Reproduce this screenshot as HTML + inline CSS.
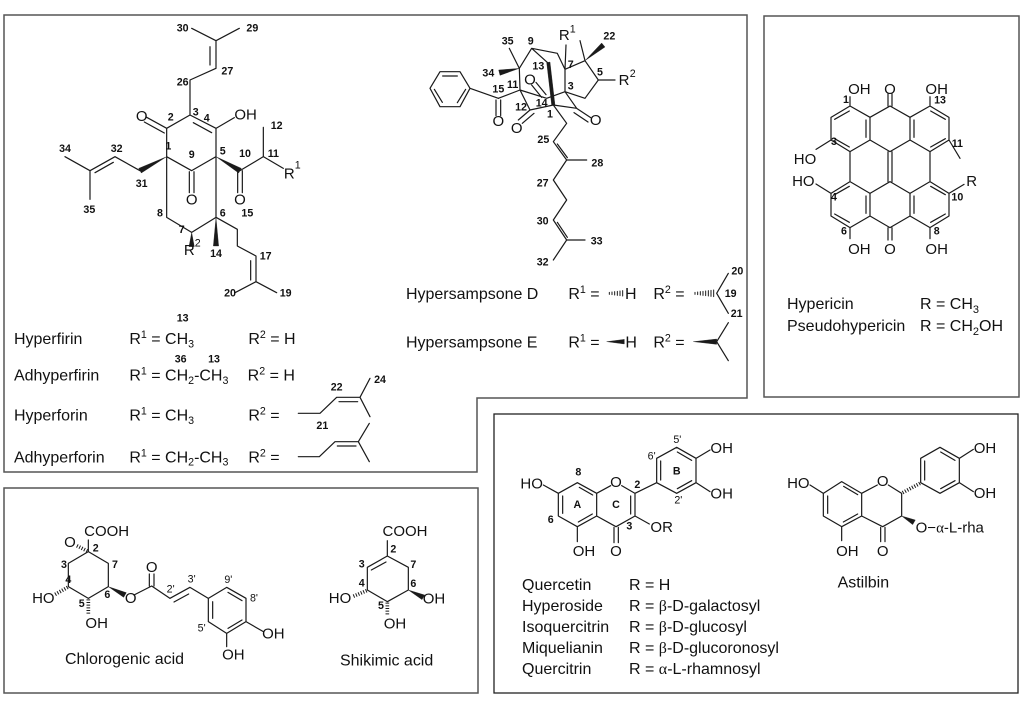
<!DOCTYPE html>
<html>
<head>
<meta charset="utf-8">
<style>
html,body{margin:0;padding:0;background:#fff;}
svg{display:block;}
text{font-family:"Liberation Sans",Arial,sans-serif;fill:#111;}
.b{fill:none;stroke:#1a1a1a;stroke-width:3.6;stroke-linecap:round;stroke-linejoin:round;}
.h{fill:none;stroke:#1a1a1a;stroke-width:11;stroke-dasharray:3 5;}
.w{fill:#1a1a1a;stroke:#1a1a1a;stroke-width:1;}
.n{font-size:32px;font-weight:bold;text-anchor:middle;dominant-baseline:central;}
.a{font-size:45px;text-anchor:middle;dominant-baseline:central;}
.t{font-size:48px;}
.s{font-size:32px;}
.box{fill:none;stroke:#555;stroke-width:1.5;}
.box2{fill:none;stroke:#222;stroke-width:1.3;}
</style>
</head>
<body>
<svg width="1025" height="709" viewBox="0 0 1025 709" xmlns="http://www.w3.org/2000/svg">
<rect width="1025" height="709" fill="#fff"/>

<!-- boxes -->
<polygon class="box" points="4,15 747,15 747,398 477,398 477,472 4,472"/>
<rect class="box" x="764" y="16" width="255" height="381"/>
<rect class="box2" x="494" y="414" width="524" height="279"/>
<rect class="box" x="4" y="488" width="474" height="205"/>

<!-- ===== Hyperfirin core ===== -->
<g transform="scale(0.333333)">
<path class="b" d="M575,85 L648,122 L718,85 M648,122 L648,205 L570,240 L570,345 M630,140 L630,195
M570,345 L500,385 L500,470 L575,512 L648,470 L648,385 L570,345 M580,368 L635,398
M500,385 L440,352 M493,399 L433,366 M648,385 L703,353
M568,515 L568,578 M582,515 L582,578
M720,512 L790,470 L850,505 M790,470 L790,382 M713,512 L713,578 M727,512 L727,578
M420,512 L345,470 L270,512 L195,470 M270,512 L270,598 M340,487 L285,518
M500,470 L500,652 L575,697 L648,652 L648,470
M648,652 L712,688 L712,738 L768,768 L768,845 L705,878 M768,845 L830,878 M752,782 L752,840"/>
<polygon class="w" points="648,470 716,519 724,505"/>
<polygon class="w" points="500,470 416,505 424,519"/>
<polygon class="w" points="575,697 567,740 583,740"/>
<polygon class="w" points="648,652 640,738 656,738"/>
<text class="n" x="548" y="85">30</text>
<text class="n" x="757" y="85">29</text>
<text class="n" x="682" y="215">27</text>
<text class="n" x="548" y="248">26</text>
<text class="n" x="587" y="338">3</text>
<text class="n" x="512" y="352">2</text>
<text class="n" x="620" y="355">4</text>
<text class="a" x="425" y="350">O</text>
<text class="a" x="703" y="345" style="text-anchor:start">OH</text>
<text class="n" x="830" y="378">12</text>
<text class="n" x="820" y="462">11</text>
<text class="n" x="735" y="462">10</text>
<text class="n" x="668" y="455">5</text>
<text class="n" x="575" y="465">9</text>
<text class="n" x="505" y="440">1</text>
<text class="n" x="195" y="447">34</text>
<text class="n" x="350" y="447">32</text>
<text class="n" x="425" y="552">31</text>
<text class="n" x="268" y="630">35</text>
<text class="n" x="480" y="640">8</text>
<text class="n" x="545" y="690">7</text>
<text class="n" x="668" y="640">6</text>
<text class="n" x="742" y="640">15</text>
<text class="n" x="648" y="762">14</text>
<text class="n" x="797" y="770">17</text>
<text class="n" x="690" y="880">20</text>
<text class="n" x="857" y="880">19</text>
<text class="a" x="575" y="600">O</text>
<text class="a" x="720" y="600">O</text>
<text class="a" x="868" y="522">R</text>
<text class="n" x="893" y="497" style="font-weight:normal">1</text>
<text class="a" x="568" y="752">R</text>
<text class="n" x="593" y="730" style="font-weight:normal">2</text>
</g>

<!-- ===== Hyperfirin table ===== -->
<g transform="translate(0,300) scale(0.333333)">
<text class="t" x="42" y="132">Hyperfirin</text>
<text class="t" x="388" y="132">R<tspan class="s" dy="-18">1</tspan><tspan dy="18"> = CH</tspan><tspan class="s" dy="10">3</tspan></text>
<text class="t" x="745" y="132">R<tspan class="s" dy="-18">2</tspan><tspan dy="18"> = H</tspan></text>
<text class="n" x="548" y="55">13</text>

<text class="t" x="42" y="242">Adhyperfirin</text>
<text class="t" x="388" y="242">R<tspan class="s" dy="-18">1</tspan><tspan dy="18"> = CH</tspan><tspan class="s" dy="10">2</tspan><tspan dy="-10">-CH</tspan><tspan class="s" dy="10">3</tspan></text>
<text class="t" x="743" y="242">R<tspan class="s" dy="-18">2</tspan><tspan dy="18"> = H</tspan></text>
<text class="n" x="542" y="178">36</text>
<text class="n" x="642" y="178">13</text>

<text class="t" x="42" y="362">Hyperforin</text>
<text class="t" x="388" y="362">R<tspan class="s" dy="-18">1</tspan><tspan dy="18"> = CH</tspan><tspan class="s" dy="10">3</tspan></text>
<text class="t" x="745" y="362">R<tspan class="s" dy="-18">2</tspan><tspan dy="18"> =</tspan></text>
<path class="b" d="M895,340 L960,340 L1010,292 L1080,292 L1110,235 M1080,292 L1110,350 M1017,305 L1073,305"/>
<text class="n" x="1010" y="262">22</text>
<text class="n" x="967" y="378">21</text>
<text class="n" x="1140" y="240">24</text>

<text class="t" x="42" y="487">Adhyperforin</text>
<text class="t" x="388" y="487">R<tspan class="s" dy="-18">1</tspan><tspan dy="18"> = CH</tspan><tspan class="s" dy="10">2</tspan><tspan dy="-10">-CH</tspan><tspan class="s" dy="10">3</tspan></text>
<text class="t" x="745" y="487">R<tspan class="s" dy="-18">2</tspan><tspan dy="18"> =</tspan></text>
<path class="b" d="M895,470 L958,470 L1005,425 L1075,425 L1108,370 M1075,425 L1108,485 M1012,438 L1068,438"/>
</g>

<!-- ===== Hypersampsone core ===== -->
<g transform="translate(470,20) scale(0.333333)">
<path class="b" d="M148,145 L118,85 M148,145 L185,85 L262,100 L285,148 M185,85 L235,130
M285,148 L288,75 M285,148 L345,122 L330,62 M345,122 L385,180 L435,180
M385,180 L345,235 L285,215 L285,148
M285,215 L320,265 L250,255 L180,270 L150,210 L148,145
M150,210 L85,235 M150,210 L230,235 L285,215
M320,265 L362,293 M312,278 L354,306
M180,270 L145,300 M192,280 L157,310
M78,240 L78,287 M92,240 L92,287
M215,232 L185,195 M228,224 L198,187"/>
<polygon class="w" points="148,145 86,150 90,166"/>
<polygon class="w" points="345,122 395,69 405,81"/>
<polygon class="w" points="230,128 240,126 255,255 245,256"/>
<text class="n" x="113" y="65">35</text>
<text class="n" x="182" y="65">9</text>
<text class="n" x="55" y="160">34</text>
<text class="n" x="205" y="140">13</text>
<text class="n" x="302" y="135">7</text>
<text class="a" x="283" y="47">R</text>
<text class="n" x="308" y="28" style="font-weight:normal">1</text>
<text class="n" x="418" y="50">22</text>
<text class="n" x="390" y="158">5</text>
<text class="a" x="462" y="182">R</text>
<text class="n" x="488" y="162" style="font-weight:normal">2</text>
<text class="n" x="128" y="195">11</text>
<text class="n" x="85" y="208">15</text>
<text class="n" x="153" y="262">12</text>
<text class="n" x="215" y="250">14</text>
<text class="n" x="240" y="284">1</text>
<text class="n" x="302" y="200">3</text>
<text class="a" x="180" y="180">O</text>
<text class="a" x="85" y="305">O</text>
<text class="a" x="140" y="325">O</text>
<text class="a" x="377" y="302">O</text>
</g>

<!-- benzene + chain -->
<g transform="translate(380,0) scale(0.333333)">
<path class="b" d="M180,215 L240,215 L270,265 L240,320 L180,320 L150,265 Z
M188,228 L232,228 M257,268 L232,308 M187,307 L163,268 M270,265 L355,295
M520,315 L560,370 L520,425 L560,480 L620,480 M560,480 L520,540 L560,600 L520,660 L560,720 L615,720 M560,720 L520,780
M532,432 L562,473 M532,667 L562,712"/>
<text class="n" x="490" y="420">25</text>
<text class="n" x="652" y="490">28</text>
<text class="n" x="488" y="550">27</text>
<text class="n" x="488" y="665">30</text>
<text class="n" x="650" y="725">33</text>
<text class="n" x="488" y="788">32</text>
</g>

<!-- hypersampsone table -->
<g transform="translate(380,260) scale(0.333333)">
<text class="t" x="78" y="117">Hypersampsone D</text>
<text class="t" x="565" y="117">R<tspan class="s" dy="-18">1</tspan><tspan dy="18"> =</tspan></text>
<path class="b" style="stroke-width:3" d="M688,97 L688,103 M696,96 L696,104 M704,95 L704,105 M712,94 L712,106 M720,93 L720,107 M728,92 L728,108"/>
<text class="t" x="735" y="117">H</text>
<text class="t" x="820" y="117">R<tspan class="s" dy="-18">2</tspan><tspan dy="18"> =</tspan></text>
<path class="b" style="stroke-width:3" d="M945,97 L945,103 M953,96 L953,104 M961,95 L961,105 M969,94 L969,106 M977,93 L977,107 M985,92 L985,108 M993,91 L993,109 M1001,90 L1001,110"/>
<path class="b" d="M1010,100 L1045,40 M1010,100 L1045,160"/>
<text class="n" x="1072" y="35">20</text>
<text class="n" x="1052" y="102">19</text>
<text class="n" x="1070" y="162">21</text>

<text class="t" x="78" y="262">Hypersampsone E</text>
<text class="t" x="565" y="262">R<tspan class="s" dy="-18">1</tspan><tspan dy="18"> =</tspan></text>
<polygon class="w" points="680,245 733,238 733,252"/>
<text class="t" x="736" y="262">H</text>
<text class="t" x="820" y="262">R<tspan class="s" dy="-18">2</tspan><tspan dy="18"> =</tspan></text>
<polygon class="w" points="940,245 1010,237 1010,253"/>
<path class="b" d="M1010,245 L1045,188 M1010,245 L1045,302"/>
</g>

<!-- ===== Hypericin ===== -->
<g transform="translate(760,0) scale(0.333333)">
<path class="b" d="M270,318 L330,352 L330,420 L270,455 L213,420 L213,352 Z
M330,352 L390,318 L450,352 L450,420 L390,455 L330,420
M450,352 L510,318 L567,352 L567,420 L510,455 L450,420
M270,545 L330,580 L330,648 L270,683 L213,648 L213,580 Z
M330,580 L390,545 L450,580 L450,648 L390,683 L330,648
M450,580 L510,545 L567,580 L567,648 L510,683 L450,648
M270,455 L270,545 M510,455 L510,545 M384,455 L384,545 M396,455 L396,545
M224,358 L268,333 M318,360 L318,412 M268,441 L224,416
M512,333 L556,358 M462,360 L462,412 M512,441 L556,416
M224,642 L268,667 M318,588 L318,640 M268,559 L224,584
M512,667 L556,642 M462,588 L462,640 M512,559 L556,584
M384,318 L384,282 M396,318 L396,282 M384,683 L384,720 M396,683 L396,720
M270,318 L270,290 M510,318 L510,290 M270,683 L270,716 M510,683 L510,716
M213,420 L168,448 M213,580 L168,552 M567,420 L600,475 M567,580 L612,553"/>
<text class="a" x="298" y="268">OH</text>
<text class="a" x="390" y="268">O</text>
<text class="a" x="530" y="268">OH</text>
<text class="a" x="298" y="748">OH</text>
<text class="a" x="390" y="748">O</text>
<text class="a" x="530" y="748">OH</text>
<text class="a" x="135" y="478">HO</text>
<text class="a" x="130" y="545">HO</text>
<text class="a" x="635" y="545">R</text>
<text class="n" x="258" y="300">1</text>
<text class="n" x="222" y="426">3</text>
<text class="n" x="222" y="592">4</text>
<text class="n" x="252" y="695">6</text>
<text class="n" x="540" y="302">13</text>
<text class="n" x="592" y="432">11</text>
<text class="n" x="592" y="592">10</text>
<text class="n" x="530" y="695">8</text>
</g>
<text x="787" y="309" font-size="16">Hypericin</text>
<text x="920" y="309" font-size="16">R = CH<tspan font-size="11" dy="4">3</tspan></text>
<text x="787" y="331" font-size="16">Pseudohypericin</text>
<text x="920" y="331" font-size="16">R = CH<tspan font-size="11" dy="4">2</tspan><tspan dy="-4">OH</tspan></text>

<!-- ===== Chlorogenic acid ===== -->
<g transform="translate(0,480) scale(0.333333)">
<path class="b" d="M265,215 L265,180 M265,215 L325,250 L325,320 L265,355 L205,320 L205,250 Z
M402,345 L455,318 L510,355 L570,322 L625,355 M448,318 L448,282 M462,318 L462,282 M522,366 L566,342
M625,355 L680,322 L738,355 L738,425 L680,460 L625,425 Z
M684,337 L726,362 M726,420 L684,445 M638,365 L638,415
M738,425 L790,455 M680,460 L680,500"/>
<path class="h" d="M262,213 L228,196"/>
<path class="h" d="M203,322 L162,345"/>
<path class="h" d="M265,358 L265,402"/>
<polygon class="w" points="325,320 371,352 379,338"/>
<text class="a" x="320" y="155">COOH</text>
<text class="a" x="210" y="188">O</text>
<text class="n" x="287" y="205">2</text>
<text class="n" x="345" y="255">7</text>
<text class="n" x="192" y="255">3</text>
<text class="n" x="205" y="300">4</text>
<text class="n" x="245" y="372">5</text>
<text class="n" x="322" y="345">6</text>
<text class="a" x="130" y="355">HO</text>
<text class="a" x="290" y="430">OH</text>
<text class="a" x="392" y="355">O</text>
<text class="a" x="455" y="262">O</text>
<text class="n" x="512" y="328" style="font-weight:normal">2'</text>
<text class="n" x="575" y="298" style="font-weight:normal">3'</text>
<text class="n" x="685" y="300" style="font-weight:normal">9'</text>
<text class="n" x="762" y="355" style="font-weight:normal">8'</text>
<text class="n" x="605" y="445" style="font-weight:normal">5'</text>
<text class="a" x="820" y="462">OH</text>
<text class="a" x="700" y="525">OH</text>
<text class="t" x="195" y="552">Chlorogenic acid</text>
</g>

<!-- ===== Shikimic acid ===== -->
<g transform="translate(280,480) scale(0.333333)">
<path class="b" d="M322,228 L322,182 M322,228 L385,262 L385,330 L322,365 L262,330 L262,262 Z M318,246 L274,270"/>
<path class="h" d="M260,332 L217,350"/>
<path class="h" d="M322,368 L322,405"/>
<polygon class="w" points="385,330 426,359 434,345"/>
<text class="a" x="375" y="155">COOH</text>
<text class="n" x="340" y="208">2</text>
<text class="n" x="245" y="253">3</text>
<text class="n" x="400" y="255">7</text>
<text class="n" x="245" y="310">4</text>
<text class="n" x="400" y="312">6</text>
<text class="n" x="303" y="378">5</text>
<text class="a" x="180" y="355">HO</text>
<text class="a" x="345" y="432">OH</text>
<text class="a" x="462" y="357">OH</text>
<text class="t" x="180" y="557">Shikimic acid</text>
</g>

<!-- ===== Quercetin ===== -->
<g transform="translate(490,390) scale(0.333333)">
<path class="b" d="M262,278 L320,310 L320,378 L262,410 L205,378 L205,310 Z
M268,292 L308,315 M307,372 L265,396 M218,318 L218,370
M320,310 L362,287 M395,287 L435,310 L435,378 L378,410 L320,378 M422,318 L422,372
M372,412 L372,458 M385,412 L385,458 M435,378 L478,402
M205,310 L160,285 M262,410 L262,455 M435,310 L500,278
M500,205 L560,172 L618,205 L618,278 L560,310 L500,278 Z
M512,213 L512,270 M562,186 L605,211 M605,272 L562,296
M618,205 L660,180 M618,278 L660,305"/>
<text class="a" x="125" y="282">HO</text>
<text class="n" x="265" y="248">8</text>
<text class="n" x="182" y="390">6</text>
<text class="n" x="262" y="345">A</text>
<text class="n" x="378" y="345">C</text>
<text class="a" x="378" y="278">O</text>
<text class="n" x="442" y="285">2</text>
<text class="n" x="418" y="410">3</text>
<text class="a" x="515" y="412">OR</text>
<text class="a" x="378" y="485">O</text>
<text class="a" x="282" y="485">OH</text>
<text class="n" x="485" y="200" style="font-weight:normal">6'</text>
<text class="n" x="562" y="150" style="font-weight:normal">5'</text>
<text class="n" x="560" y="245">B</text>
<text class="n" x="565" y="332" style="font-weight:normal">2'</text>
<text class="a" x="695" y="175">OH</text>
<text class="a" x="695" y="312">OH</text>
</g>
<g font-size="16">
<text x="522" y="590">Quercetin</text>
<text x="629" y="590">R = H</text>
<text x="522" y="611">Hyperoside</text>
<text x="629" y="611">R = <tspan font-family="Liberation Serif">β</tspan>-D-galactosyl</text>
<text x="522" y="632">Isoquercitrin</text>
<text x="629" y="632">R = <tspan font-family="Liberation Serif">β</tspan>-D-glucosyl</text>
<text x="522" y="653">Miquelianin</text>
<text x="629" y="653">R = <tspan font-family="Liberation Serif">β</tspan>-D-glucoronosyl</text>
<text x="522" y="674">Quercitrin</text>
<text x="629" y="674">R = <tspan font-family="Liberation Serif">α</tspan>-L-rhamnosyl</text>
</g>

<!-- ===== Astilbin ===== -->
<g transform="translate(760,390) scale(0.333333)">
<path class="b" d="M245,275 L305,310 L305,378 L245,410 L190,378 L190,310 Z
M251,289 L293,314 M293,372 L250,396 M203,318 L203,370
M305,310 L352,285 M385,285 L425,310 L425,378 L368,410 L305,378
M362,412 L362,455 M375,412 L375,455
M190,310 L150,285 M245,410 L245,452
M482,205 L540,172 L598,205 L598,278 L540,310 L482,278 Z
M494,213 L494,270 M542,186 L585,211 M585,272 L542,296
M598,205 L640,178 M598,278 L640,305"/>
<path class="h" d="M428,308 L480,280"/>
<polygon class="w" points="425,378 458,404 466,390"/>
<text class="a" x="368" y="275">O</text>
<text class="a" x="368" y="485">O</text>
<text class="a" x="115" y="280">HO</text>
<text class="a" x="262" y="485">OH</text>
<text class="a" x="675" y="175">OH</text>
<text class="a" x="675" y="310">OH</text>
<text x="467" y="428" font-size="45">O−<tspan font-family="Liberation Serif">α</tspan>-L-rha</text>
<text class="t" x="310" y="592" text-anchor="middle">Astilbin</text>
</g>

</svg>
</body>
</html>
